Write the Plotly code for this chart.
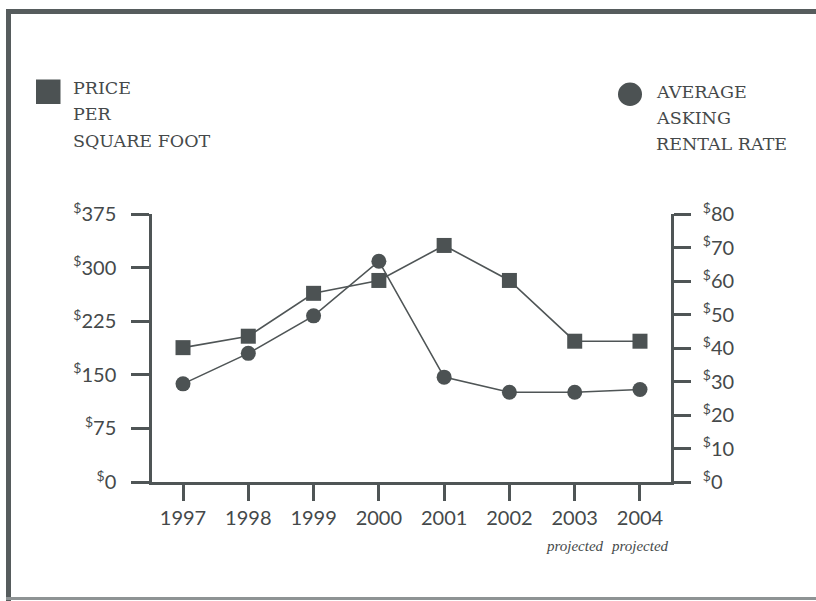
import plotly.graph_objects as go

# ---- data ----
years = [1997, 1998, 1999, 2000, 2001, 2002, 2003, 2004]
price_per_sqft = [188, 204, 264, 282, 331, 282, 197, 197]
asking_rent = [29.3, 38.4, 49.6, 65.9, 31.3, 26.8, 26.8, 27.6]
price_ticks = [0, 75, 150, 225, 300, 375]
rent_ticks = [0, 10, 20, 30, 40, 50, 60, 70, 80]
projected_years = [2003, 2004]
price_label = ["PRICE", "PER", "SQUARE FOOT"]
rent_label = ["AVERAGE", "ASKING", "RENTAL RATE"]

W, H = 816, 601
ML, MR, MT, MB = 152, 145, 214, 119
PW, PH = W - ML - MR, H - MT - MB

def px2x(px):
    return (px - ML) / PW

def px2y(py):
    return (H - MB - py) / PH

INK = "#4c5253"
LINE = "#4f5556"
TXT = "#45494a"

fig = go.Figure()
fig.add_trace(go.Scatter(
    x=years, y=price_per_sqft, mode="lines+markers",
    line=dict(color=LINE, width=1.6),
    marker=dict(symbol="square", size=15, color=INK),
    name="Price per square foot", yaxis="y", showlegend=False))
fig.add_trace(go.Scatter(
    x=years, y=asking_rent, mode="lines+markers",
    line=dict(color=LINE, width=1.6),
    marker=dict(symbol="circle", size=15, color=INK),
    name="Average asking rental rate", yaxis="y2", showlegend=False))

tickfont = dict(family="Lato", size=20, color=TXT)
axis_common = dict(showline=True, linecolor=LINE, linewidth=2.5,
                   ticks="outside", tickcolor=LINE, tickwidth=2.5,
                   showgrid=False, zeroline=False, tickfont=tickfont)

fig.update_layout(
    width=W, height=H,
    margin=dict(l=ML, r=MR, t=MT, b=MB, pad=0),
    paper_bgcolor="white", plot_bgcolor="white",
    xaxis=dict(range=[1996.525, 2004.475], tickvals=years,
               ticktext=[str(y) for y in years], ticklen=16,
               ticklabelstandoff=0, **axis_common),
    yaxis=dict(range=[0, 375], tickvals=price_ticks,
               ticktext=[f"<sup>$</sup>{v}" for v in price_ticks],
               ticklen=18, ticklabelstandoff=11, **axis_common),
    yaxis2=dict(range=[0, 80], tickvals=rent_ticks,
                ticktext=[f"<sup>$</sup>{v}" for v in rent_ticks],
                overlaying="y", side="right", anchor="x",
                ticklen=17, ticklabelstandoff=8, **axis_common),
)

# "projected" notes under the last two years
for yr in projected_years:
    fig.add_annotation(x=yr, xref="x", y=px2y(546), yref="paper",
                       text="<i>projected</i>", showarrow=False,
                       font=dict(family="Liberation Serif", size=15, color=TXT),
                       xanchor="center", yanchor="middle")

# legend keys and labels
serif = dict(family="DejaVu Serif", size=17.5, color=TXT)
for txt, py in zip(price_label, [87.5, 114, 141]):
    fig.add_annotation(x=px2x(71), xref="paper", y=px2y(py), yref="paper",
                       text=txt, showarrow=False, font=serif,
                       xanchor="left", yanchor="middle")
for txt, py in zip(rent_label, [92.5, 117.5, 144]):
    fig.add_annotation(x=px2x(654), xref="paper", y=px2y(py), yref="paper",
                       text=txt, showarrow=False, font=serif,
                       xanchor="left", yanchor="middle")

fig.add_shape(type="rect", xref="paper", yref="paper",
              x0=px2x(36), x1=px2x(60.5), y0=px2y(104), y1=px2y(79.5),
              fillcolor=INK, line=dict(width=0))
fig.add_shape(type="circle", xref="paper", yref="paper",
              x0=px2x(618), x1=px2x(642), y0=px2y(106), y1=px2y(82.5),
              fillcolor=INK, line=dict(width=0))

# frame
fig.add_shape(type="line", xref="paper", yref="paper",
              x0=px2x(6), x1=px2x(830), y0=px2y(11.5), y1=px2y(11.5),
              line=dict(color="#565c5d", width=5))
fig.add_shape(type="line", xref="paper", yref="paper",
              x0=px2x(8.5), x1=px2x(8.5), y0=px2y(9), y1=px2y(601),
              line=dict(color="#565c5d", width=5))
fig.add_shape(type="line", xref="paper", yref="paper",
              x0=px2x(6), x1=px2x(830), y0=px2y(598.5), y1=px2y(598.5),
              line=dict(color="#8e9394", width=3))

fig.write_html("out.html")
